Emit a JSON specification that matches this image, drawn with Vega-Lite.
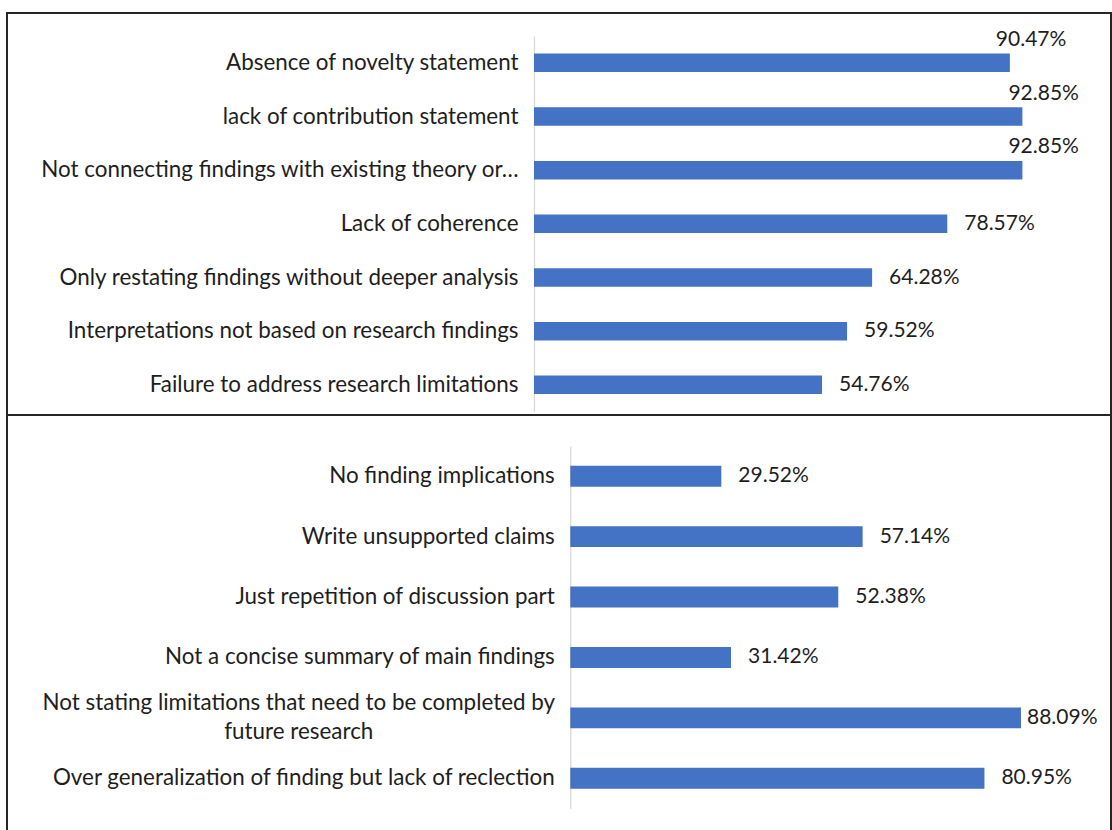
{
  "$schema": "https://vega.github.io/schema/vega-lite/v6.json",
  "padding": {"left": 6, "top": 12, "right": 0, "bottom": 0},
  "background": "white",
  "spacing": 0,
  "bounds": "flush",
  "config": {
    "view": {"stroke": "#262626", "strokeWidth": 2},
    "font": "Lato",
    "axis": {
      "domainColor": "#d9d9d9",
      "domainWidth": 1.3,
      "ticks": false,
      "grid": false,
      "labelFont": "Lato",
      "labelFontSize": 22.4,
      "labelColor": "#1e1e1e",
      "labelLimit": 0,
      "labelPadding": 16,
      "title": null
    },
    "text": {"font": "Lato", "fontSize": 21, "color": "#1e1e1e"}
  },
  "datasets": {
    "discussion": [
      {"issue": "Absence of novelty statement", "pct": 0.9047},
      {"issue": "lack of contribution statement", "pct": 0.9285},
      {"issue": "Not connecting findings with existing theory or…", "pct": 0.9285},
      {"issue": "Lack of coherence", "pct": 0.7857},
      {"issue": "Only restating findings without deeper analysis", "pct": 0.6428},
      {"issue": "Interpretations not based on research findings", "pct": 0.5952},
      {"issue": "Failure to address research limitations", "pct": 0.5476}
    ],
    "conclusion": [
      {"issue": "No finding implications", "pct": 0.2952},
      {"issue": "Write unsupported claims", "pct": 0.5714},
      {"issue": "Just repetition of discussion part", "pct": 0.5238},
      {"issue": "Not a concise summary of main findings", "pct": 0.3142},
      {"issue": "Not stating limitations that need to be completed by future research", "pct": 0.8809},
      {"issue": "Over generalization of finding but lack of reclection", "pct": 0.8095}
    ]
  },
  "vconcat": [
    {
      "width": 1104,
      "height": 402,
      "data": {"name": "discussion"},
      "encoding": {
        "y": {
          "field": "issue",
          "type": "nominal",
          "sort": null,
          "scale": {"range": [23, 398.7], "paddingInner": 0.655, "paddingOuter": 0.3275},
          "axis": {"offset": -527}
        },
        "x": {
          "field": "pct",
          "type": "quantitative",
          "scale": {"domain": [0, 1], "range": [527, 1053]},
          "axis": null
        }
      },
      "layer": [
        {"mark": {"type": "bar", "color": "#4472C4"}},
        {
          "transform": [{"filter": "datum.pct < 0.85"}],
          "mark": {"type": "text", "align": "left", "baseline": "middle", "dx": 17},
          "encoding": {"text": {"field": "pct", "type": "quantitative", "format": ".2%"}}
        },
        {
          "transform": [{"filter": "datum.pct >= 0.85"}],
          "mark": {"type": "text", "align": "left", "baseline": "middle", "dx": -14, "dy": -23},
          "encoding": {"text": {"field": "pct", "type": "quantitative", "format": ".2%"}}
        }
      ]
    },
    {
      "width": 1104,
      "height": 425,
      "data": {"name": "conclusion"},
      "encoding": {
        "y": {
          "field": "issue",
          "type": "nominal",
          "sort": null,
          "scale": {"range": [31, 393.5], "paddingInner": 0.655, "paddingOuter": 0.3275},
          "axis": {
            "offset": -563.3,
            "labelLineHeight": 29,
            "labelExpr": "datum.value == 'Not stating limitations that need to be completed by future research' ? ['Not stating limitations that need to be completed by', 'future research'] : datum.label",
            "labelAlign": {"condition": {"test": "indexof(datum.value, 'Not stating') == 0", "value": "center"}, "value": "right"},
            "labelPadding": {"condition": {"test": "indexof(datum.value, 'Not stating') == 0", "value": 272}, "value": 16},
            "labelOffset": {"condition": {"test": "indexof(datum.value, 'Not stating') == 0", "value": -14.5}, "value": 0}
          }
        },
        "x": {
          "field": "pct",
          "type": "quantitative",
          "scale": {"domain": [0, 1], "range": [563.3, 1074.9]},
          "axis": null
        }
      },
      "layer": [
        {"mark": {"type": "bar", "color": "#4472C4"}},
        {
          "transform": [{"filter": "datum.pct < 0.85"}],
          "mark": {"type": "text", "align": "left", "baseline": "middle", "dx": 17},
          "encoding": {"text": {"field": "pct", "type": "quantitative", "format": ".2%"}}
        },
        {
          "transform": [{"filter": "datum.pct >= 0.85"}],
          "mark": {"type": "text", "align": "left", "baseline": "middle", "dx": 6},
          "encoding": {"text": {"field": "pct", "type": "quantitative", "format": ".2%"}}
        }
      ]
    }
  ]
}
